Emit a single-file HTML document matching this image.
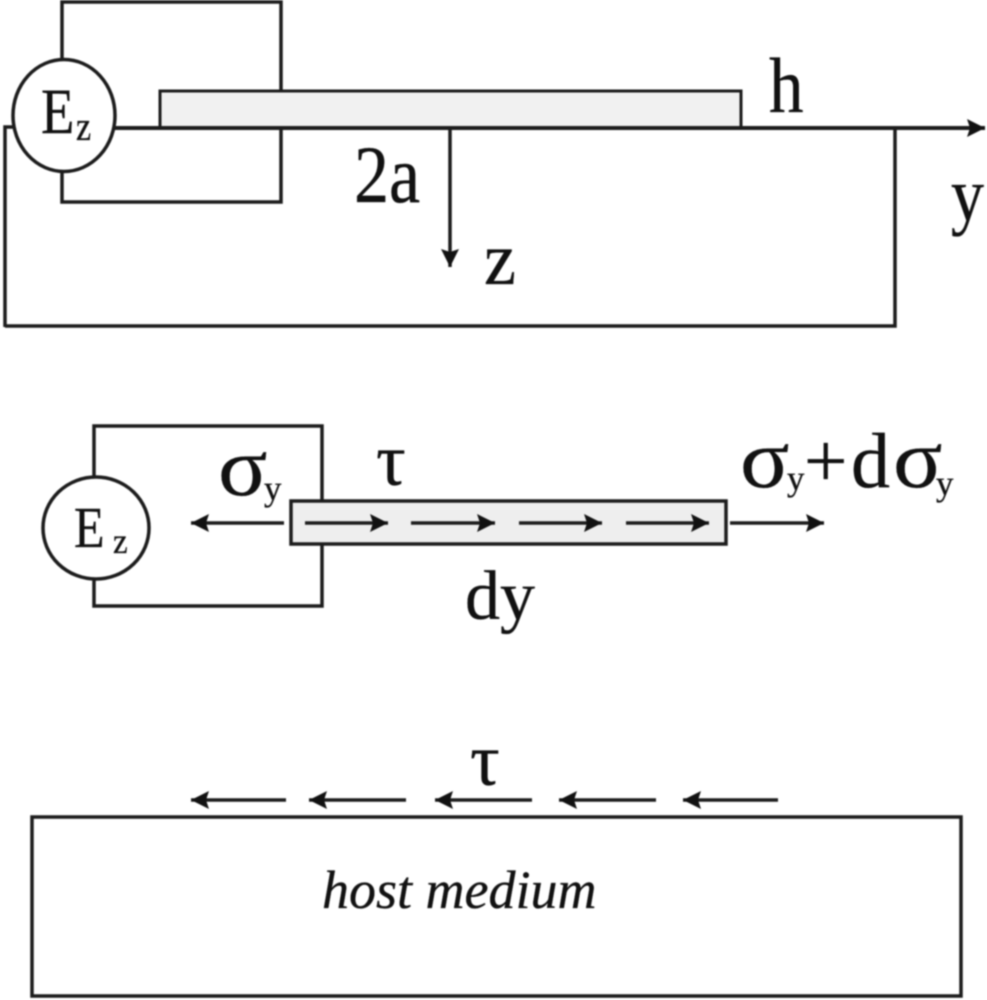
<!DOCTYPE html>
<html>
<head>
<meta charset="utf-8">
<style>
html,body{margin:0;padding:0;background:#fff;}
svg{display:block;filter:blur(0.8px);}
text{font-family:"Liberation Serif",serif;fill:#111;stroke:#111;stroke-width:.3px;}
</style>
</head>
<body>
<svg width="987" height="1000" viewBox="0 0 987 1000" xmlns="http://www.w3.org/2000/svg">
<defs>
<marker id="a" markerUnits="userSpaceOnUse" markerWidth="20" markerHeight="18" refX="18" refY="9" orient="auto">
<path d="M0,0 L18,9 L0,18 L3,9 Z" fill="#111"/>
</marker>
</defs>
<g fill="none" stroke="#1c1c1c" stroke-width="3.5">
<!-- top figure -->
<path d="M62,60 V2 H281 V202 H62 V170"/>
<rect x="160" y="91" width="581" height="37" fill="#f1f1f1" stroke-width="3"/>
<path d="M5,327 V127 H14"/>
<path d="M5,326 H895 V128"/>
<path d="M115,128 H985" marker-end="url(#a)" stroke-width="4"/>
<path d="M450,128 V267" marker-end="url(#a)"/>
<ellipse cx="64" cy="115.5" rx="51" ry="56" fill="#fff"/>
<!-- middle figure -->
<path d="M94,477 V426 H322 V606 H94 V579"/>
<ellipse cx="96" cy="528" rx="53" ry="51" fill="#fff"/>
<rect x="291" y="501" width="435" height="43" fill="#eee"/>
<path d="M284,523 H191" marker-end="url(#a)"/>
<path d="M730,523 H824" marker-end="url(#a)"/>
<path d="M305,523 H388" marker-end="url(#a)"/>
<path d="M411,523 H495" marker-end="url(#a)"/>
<path d="M519,523 H602" marker-end="url(#a)"/>
<path d="M626,523 H709" marker-end="url(#a)"/>
<!-- bottom figure -->
<path d="M286,800 H191" marker-end="url(#a)"/>
<path d="M406,800 H309" marker-end="url(#a)"/>
<path d="M532,800 H435" marker-end="url(#a)"/>
<path d="M656,800 H559" marker-end="url(#a)"/>
<path d="M778,800 H683" marker-end="url(#a)"/>
<rect x="32" y="817" width="929" height="179"/>
</g>
<text transform="translate(41,133) scale(1.05,1.25)" font-size="52">E</text>
<text transform="translate(76,140) scale(1,1.2)" font-size="34">z</text>
<text transform="translate(769,112) scale(1,1.13)" font-size="69">h</text>
<text transform="translate(354,202) scale(1,1.17)" font-size="70">2a</text>
<text transform="translate(484,284) scale(1,1.05)" font-size="72">z</text>
<text transform="translate(951,220) scale(1,1.15)" font-size="66">y</text>
<text transform="translate(74,547) scale(1,1.17)" font-size="50">E</text>
<text transform="translate(113,553) scale(1,1.1)" font-size="33">z</text>
<text transform="translate(218,495) scale(1.02,.93)" font-size="90">σ</text>
<text x="264" y="500" font-size="35">y</text>
<text x="376" y="485" font-size="74">τ</text>
<text transform="translate(740,487) scale(1.02,.93)" font-size="90">σ</text>
<text x="787" y="490" font-size="35">y</text>
<text x="804" y="487" font-size="77">+</text>
<text x="851" y="487" font-size="78">d</text>
<text transform="translate(893,487) scale(1.02,.93)" font-size="90">σ</text>
<text x="936" y="495" font-size="35">y</text>
<text x="465" y="619" font-size="70">dy</text>
<text x="470" y="785" font-size="74">τ</text>
<text x="322" y="908" font-size="54" font-style="italic">host medium</text>
</svg>
</body>
</html>
